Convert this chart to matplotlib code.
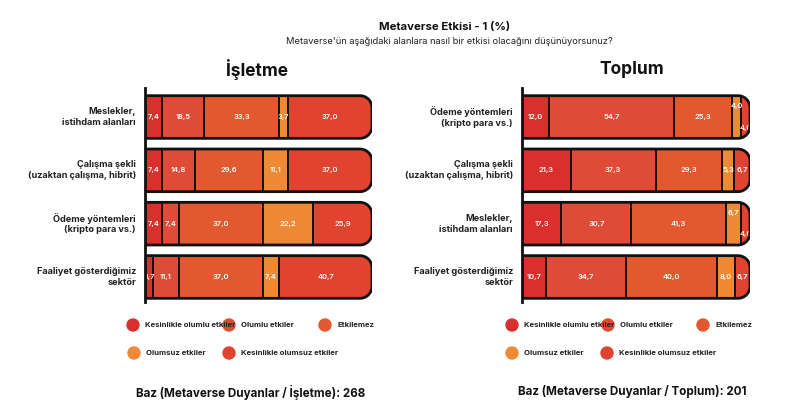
import matplotlib
matplotlib.use("Agg")
import matplotlib.pyplot as plt
from matplotlib.path import Path
from matplotlib.patches import PathPatch, Circle

plt.rcParams['font.family'] = ['Inter', 'DejaVu Sans']

# ---------------- data ----------------
title = "Metaverse Etkisi - 1 (%)"
subtitle = "Metaverse'ün aşağıdaki alanlara nasıl bir etkisi olacağını düşünüyorsunuz?"
series_names = ["Kesinlikle olumlu etkiler", "Olumlu etkiler", "Etkilemez",
                "Olumsuz etkiler", "Kesinlikle olumsuz etkiler"]

left_title = "İşletme"
left_categories = ["Meslekler,\nistihdam alanları",
                   "Çalışma şekli\n(uzaktan çalışma, hibrit)",
                   "Ödeme yöntemleri\n(kripto para vs.)",
                   "Faaliyet gösterdiğimiz\nsektör"]
left_values = [
    [7.4, 18.5, 33.3, 3.7, 37.0],
    [7.4, 14.8, 29.6, 11.1, 37.0],
    [7.4, 7.4, 37.0, 22.2, 25.9],
    [3.7, 11.1, 37.0, 7.4, 40.7],
]
left_base = "Baz (Metaverse Duyanlar / İşletme): 268"

right_title = "Toplum"
right_categories = ["Ödeme yöntemleri\n(kripto para vs.)",
                    "Çalışma şekli\n(uzaktan çalışma, hibrit)",
                    "Meslekler,\nistihdam alanları",
                    "Faaliyet gösterdiğimiz\nsektör"]
right_values = [
    [12.0, 54.7, 25.3, 4.0, 4.0],
    [21.3, 37.3, 29.3, 5.3, 6.7],
    [17.3, 30.7, 41.3, 6.7, 4.0],
    [10.7, 34.7, 40.0, 8.0, 6.7],
]
right_base = "Baz (Metaverse Duyanlar / Toplum): 201"

# ---------------- style ----------------
colors = ["#D9302E", "#E04B37", "#E2582F", "#EE8A36", "#E0432F"]
W, H = 800, 418
fig = plt.figure(figsize=(W / 100, H / 100), dpi=100)
fig.patch.set_facecolor("white")

# label offsets (rows in data units) for crowded small segments
label_offsets = {("R", 0, 3): -0.2, ("R", 0, 4): 0.2,
                 ("R", 2, 3): -0.2, ("R", 2, 4): 0.2}

PITCH = 53.3
BAR_H = 0.80
RAD_PX = 12


def px_ax(x0, x1, y0, y1):
    return fig.add_axes([x0 / W, 1 - y1 / H, (x1 - x0) / W, (y1 - y0) / H])


def panel(key, x0, x1, values, cats):
    ax = px_ax(x0, x1, 88, 302)
    top_px = 117 - 88
    bot_px = 302 - 277
    ax.set_xlim(0, 100)
    ax.set_ylim(3 + bot_px / PITCH, -top_px / PITCH)
    ax.axis("off")
    px_per_x = (x1 - x0) / 100.0
    rx = RAD_PX / px_per_x
    ry = RAD_PX / PITCH
    k = 0.5523
    for i, row in enumerate(values):
        ya = i - BAR_H / 2
        yb = i + BAR_H / 2
        verts = [(0, ya), (100 - rx, ya),
                 (100 - rx + k * rx, ya), (100, ya + ry - k * ry), (100, ya + ry),
                 (100, yb - ry),
                 (100, yb - ry + k * ry), (100 - rx + k * rx, yb), (100 - rx, yb),
                 (0, yb), (0, ya)]
        codes = [Path.MOVETO, Path.LINETO,
                 Path.CURVE4, Path.CURVE4, Path.CURVE4,
                 Path.LINETO,
                 Path.CURVE4, Path.CURVE4, Path.CURVE4,
                 Path.LINETO, Path.CLOSEPOLY]
        clip = PathPatch(Path(verts, codes), facecolor="none", edgecolor="none",
                         transform=ax.transData)
        ax.add_patch(clip)
        left = 0.0
        for j, v in enumerate(row):
            b = ax.barh(i, v, left=left, height=BAR_H, color=colors[j],
                        edgecolor="#111111", linewidth=1.4)
            for p in b:
                p.set_clip_path(clip)
            dy = label_offsets.get((key, i, j), 0)
            ax.text(left + v / 2, i + dy, f"{v:.1f}".replace(".", ","),
                    ha="center", va="center", color="white", fontsize=5.4,
                    fontweight="semibold")
            left += v
        outline = PathPatch(Path(verts, codes), facecolor="none",
                            edgecolor="#111111", linewidth=2.0,
                            transform=ax.transData, zorder=5)
        ax.add_patch(outline)
    ax.plot([0, 0], [3 + bot_px / PITCH, -top_px / PITCH], color="#111111",
            lw=2.0, clip_on=False, zorder=6)
    for i, c in enumerate(cats):
        ax.text(-4.0, i, c, ha="right", va="center", fontsize=6.6,
                fontweight="bold", color="#222222", linespacing=1.25)
    return ax


panel("L", 145, 372, left_values, left_categories)
panel("R", 522, 750, right_values, right_categories)

# overlay for texts/legend in pixel coords
ov = fig.add_axes([0, 0, 1, 1], zorder=-1)
ov.set_xlim(0, W)
ov.set_ylim(H, 0)
ov.axis("off")

ov.text(445, 27, title, ha="center", va="center", fontsize=8.2,
        fontweight="bold", color="#111111")
ov.text(449, 41, subtitle, ha="center", va="center", fontsize=6.7,
        color="#222222")
ov.text(257, 70, left_title, ha="center", va="center", fontsize=12.5,
        fontweight="bold", color="#111111")
ov.text(632, 70, right_title, ha="center", va="center", fontsize=12.5,
        fontweight="bold", color="#111111")

leg_pos_L = [(133, 325), (229, 325), (325, 325), (134, 353), (229, 353)]
leg_pos_R = [(512, 325), (608, 325), (703, 325), (512, 353), (607, 353)]
for pos in (leg_pos_L, leg_pos_R):
    for j, (cx, cy) in enumerate(pos):
        ov.add_patch(Circle((cx, cy), 6, color=colors[j], zorder=2))
        ov.text(cx + 12, cy, series_names[j], ha="left", va="center",
                fontsize=5.6, fontweight="bold", color="#222222")

ov.text(251, 392, left_base, ha="center", va="center", fontsize=8.4,
        fontweight="bold", color="#111111")
ov.text(632, 392, right_base, ha="center", va="center", fontsize=8.4,
        fontweight="bold", color="#111111")

fig.savefig("out.png", dpi=100, facecolor="white")
